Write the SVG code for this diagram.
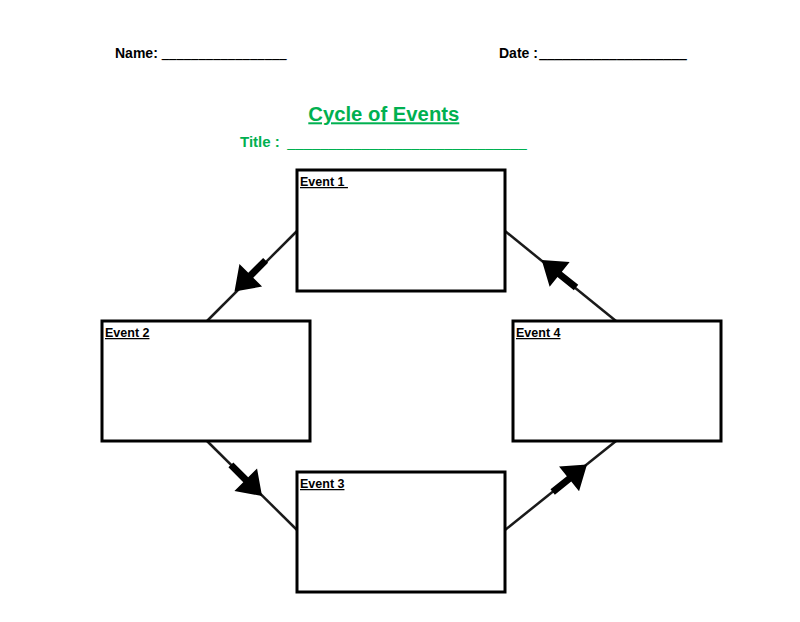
<svg xmlns="http://www.w3.org/2000/svg" width="800" height="622" viewBox="0 0 800 622">
<style>
.hdr{font-family:"Liberation Sans",Arial,sans-serif;font-weight:bold;font-size:14px;fill:#000}
.grn{font-family:"Liberation Sans",Arial,sans-serif;font-weight:bold;fill:#00B050}
.box{fill:#fff;stroke:#000;stroke-width:3}
.lbl{font-family:"Liberation Sans",Arial,sans-serif;font-weight:bold;font-size:12.5px;fill:#000;text-decoration:underline}
.con{stroke:#1a1a1a;stroke-width:2.5;fill:none}
.arr{fill:#000}
</style>
<defs>
<path id="ah" d="M0,0 L-23,-16 L-23,-3.5 L-44,-3.5 L-44,3.5 L-23,3.5 L-23,16 Z"/>
</defs>
<rect width="800" height="622" fill="#fff"/>
<g id="header">
<text class="hdr" x="115" y="58.3">Name:</text>
<text class="hdr" transform="translate(161.7,57) scale(1,2)" textLength="125" lengthAdjust="spacingAndGlyphs">_________________</text>
<text class="hdr" x="499" y="58.3">Date :</text>
<text class="hdr" transform="translate(539.3,57) scale(1,2)" textLength="147.4" lengthAdjust="spacingAndGlyphs">___________________</text>
<text class="grn" x="308.3" y="121.3" font-size="20" textLength="151" lengthAdjust="spacingAndGlyphs" text-decoration="underline">Cycle of Events</text>
<text class="grn" x="240" y="147.3" font-size="15">Title :</text>
<text class="grn" transform="translate(287.3,146.6) scale(1,1.5)" font-size="15" textLength="239.4" lengthAdjust="spacingAndGlyphs">_____________________________</text>
</g>
<g id="connectors">
<line class="con" x1="297" y1="231" x2="207" y2="321"/>
<line class="con" x1="207" y1="441" x2="297" y2="530"/>
<line class="con" x1="505" y1="530" x2="616" y2="441"/>
<line class="con" x1="616" y1="321" x2="505" y2="231"/>
<use href="#ah" class="arr" transform="translate(234.5,291.5) rotate(135)"/>
<use href="#ah" class="arr" transform="translate(262,496) rotate(45)"/>
<use href="#ah" class="arr" transform="translate(587,464.5) rotate(-38.7)"/>
<use href="#ah" class="arr" transform="translate(541.7,260) rotate(218.7)"/>
</g>
<g id="event1">
<rect class="box" x="297" y="170" width="208" height="121"/>
<text class="lbl" x="300" y="186" xml:space="preserve">Event 1 </text>
</g>
<g id="event2">
<rect class="box" x="102" y="321" width="208" height="120"/>
<text class="lbl" x="105" y="337">Event 2</text>
</g>
<g id="event3">
<rect class="box" x="297" y="472" width="208" height="120"/>
<text class="lbl" x="300" y="488">Event 3</text>
</g>
<g id="event4">
<rect class="box" x="513" y="321" width="208" height="120"/>
<text class="lbl" x="516" y="337">Event 4</text>
</g>
</svg>
